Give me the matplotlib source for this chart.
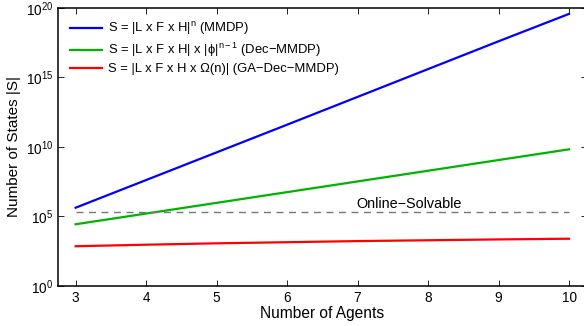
import numpy as np
import matplotlib
matplotlib.use('Agg')
import matplotlib.pyplot as plt

plt.rcParams['font.family'] = ['Liberation Sans', 'DejaVu Sans']
plt.rcParams['mathtext.fontset'] = 'custom'
plt.rcParams['mathtext.rm'] = 'Liberation Sans'
plt.rcParams['mathtext.it'] = 'Liberation Sans'

# Data (log10 of number of states)
agents = [3, 4, 5, 6, 7, 8, 9, 10]
log_mmdp = [5.63, 7.62, 9.61, 11.6, 13.6, 15.6, 17.6, 19.57]
log_dec = [4.44, 5.21, 5.98, 6.75, 7.52, 8.29, 9.06, 9.83]
log_ga = [2.86, 2.97, 3.07, 3.15, 3.23, 3.29, 3.35, 3.40]
online_solvable = 2e5

labels = ['S = |L x F x H|$^{\\mathrm{n}}$ (MMDP)',
          'S = |L x F x H| x |\u03d5|$^{\\mathrm{n\u2212 1}}$ (Dec\u2212MMDP)',
          'S = |L x F x H x \u03a9(n)| (GA\u2212Dec\u2212MMDP)']
colors = ['#0000ff', '#00b300', '#ff0000']

fig = plt.figure(figsize=(5.84, 3.26), dpi=100)
ax = fig.add_axes([0.0993, 0.1227, 0.9052, 0.853])

for vals, lab, c in zip([log_mmdp, log_dec, log_ga], labels, colors):
    ax.plot(agents, 10 ** np.array(vals), color=c, lw=1.6, label=lab)

ax.plot([agents[0], agents[-1]], [online_solvable, online_solvable],
        color='#777777', lw=1.0, ls=(0, (5, 4)))
ax.text(7.73, online_solvable * 1.25, 'Online\u2212Solvable', ha='center',
        va='bottom', fontsize=10.4)

ax.set_yscale('log')
ax.set_xlim(2.75, 10.25)
ax.set_ylim(1, 1e20)
ax.set_xticks(agents)
ax.set_yticks([1e0, 1e5, 1e10, 1e15, 1e20])
ax.yaxis.set_minor_locator(matplotlib.ticker.NullLocator())
ax.tick_params(direction='in', top=True, right=True, labelsize=9.8, length=4, width=0.6)
for s in ax.spines.values():
    s.set_linewidth(1.1)
ax.set_xlabel('Number of Agents', fontsize=11.2, labelpad=1)
ax.set_ylabel('Number of States |S|', fontsize=11, labelpad=3)

ax.legend(loc='upper left', frameon=False, fontsize=9.4, handlelength=2.45,
          handletextpad=0.4, labelspacing=0.3, borderaxespad=0.55)

fig.savefig('out.png', dpi=100)
